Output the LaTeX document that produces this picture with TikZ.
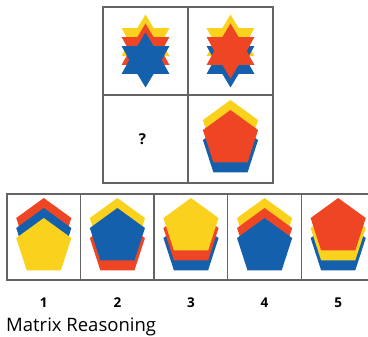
\documentclass[tikz,border=0pt]{standalone}
\usepackage{fontspec}
\setmainfont{Open Sans}
\usetikzlibrary{positioning,shapes.geometric}
\definecolor{frame}{RGB}{100,100,100}
\definecolor{tileyellow}{RGB}{250,210,30}
\definecolor{tilered}{RGB}{238,70,36}
\definecolor{tileblue}{RGB}{20,96,172}

\begin{document}
\begin{tikzpicture}[
    x=1pt,
    y=-1pt,
    cell/.style={
        draw=frame,
        line width=1.4pt,
        minimum width=85pt,
        minimum height=88pt,
        inner sep=0pt,
        outer sep=0pt
    },
    choice/.style={
        cell,
        minimum width=73.6pt,
        minimum height=86pt
    },
    starshape/.style={
        star,
        star points=6,
        star point ratio=1.7,
        minimum size=55pt,
        inner sep=0pt
    },
    pentshape/.style={
        regular polygon,
        regular polygon sides=5,
        minimum size=58pt,
        inner sep=0pt
    },
    num/.style={
        font=\bfseries\fontsize{13.5}{13.5}\selectfont,
        inner sep=0pt
    }
]
\useasboundingbox (0,0) rectangle (368,337);
\clip (0,0) rectangle (368,337);

% matrix
\node[cell] (c11) at (145.5,51) {};
\node[cell, right=0pt of c11] (c12) {};
\node[cell, below=0pt of c11] (c21) {};
\node[cell, right=0pt of c21] (c22) {};

% answer row
\node[choice] (a1) at (43.8,237) {};
\node[choice, right=0pt of a1] (a2) {};
\node[choice, right=0pt of a2] (a3) {};
\node[choice, right=0pt of a3] (a4) {};
\node[choice, right=0pt of a4] (a5) {};

% stars, blue in front
\node[starshape, fill=tileyellow, yshift=9pt] (y11) at (c11) {};
\node[starshape, fill=tilered] (r11) at (c11) {};
\node[starshape, fill=tileblue, yshift=-9pt] (b11) at (c11) {};

% stars, red in front
\node[starshape, fill=tileyellow, yshift=9pt] (y12) at (c12) {};
\node[starshape, fill=tileblue, yshift=-9pt] (b12) at (c12) {};
\node[starshape, fill=tilered] (r12) at (c12) {};

\node[
    num,
    font=\bfseries\fontsize{15}{15}\selectfont,
    xshift=-3pt
] (q) at (c21) {?};

% pentagons, red in front
\node[pentshape, fill=tileyellow, yshift=10pt] (y22) at (c22) {};
\node[pentshape, fill=tileblue, yshift=-10pt] (b22) at (c22) {};
\node[pentshape, fill=tilered] (r22) at (c22) {};

% choice 1
\node[pentshape, fill=tilered, yshift=10pt] (r1) at (a1) {};
\node[pentshape, fill=tileblue] (b1) at (a1) {};
\node[pentshape, fill=tileyellow, yshift=-10pt] (y1) at (a1) {};

% choice 2
\node[pentshape, fill=tileyellow, yshift=10pt] (y2) at (a2) {};
\node[pentshape, fill=tilered, yshift=-10pt] (r2) at (a2) {};
\node[pentshape, fill=tileblue] (b2) at (a2) {};

% choice 3
\node[pentshape, fill=tileblue, yshift=-10pt] (b3) at (a3) {};
\node[pentshape, fill=tilered] (r3) at (a3) {};
\node[pentshape, fill=tileyellow, yshift=10pt] (y3) at (a3) {};

% choice 4
\node[pentshape, fill=tileyellow, yshift=10pt] (y4) at (a4) {};
\node[pentshape, fill=tilered] (r4) at (a4) {};
\node[pentshape, fill=tileblue, yshift=-10pt] (b4) at (a4) {};

% choice 5
\node[pentshape, fill=tileblue, yshift=-10pt] (b5) at (a5) {};
\node[pentshape, fill=tileyellow] (y5) at (a5) {};
\node[pentshape, fill=tilered, yshift=10pt] (r5) at (a5) {};

% labels
\node[num, yshift=-23pt] (n1) at (a1.south) {1};
\node[num, yshift=-23pt] (n2) at (a2.south) {2};
\node[num, yshift=-23pt] (n3) at (a3.south) {3};
\node[num, yshift=-23pt] (n4) at (a4.south) {4};
\node[num, yshift=-23pt] (n5) at (a5.south) {5};

\node[
    anchor=base west,
    inner sep=0pt,
    font=\fontsize{18.5}{18.5}\selectfont
] (title) at (6,332) {Matrix Reasoning};

\end{tikzpicture}
\end{document}
